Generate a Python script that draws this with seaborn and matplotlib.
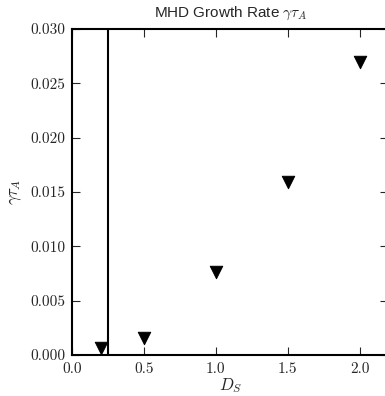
import numpy as np
import pandas as pd
import matplotlib
matplotlib.use('Agg')
import matplotlib.pyplot as plt
import seaborn as sns

# values
d_s = [0.2, 0.5, 1.0, 1.5, 2.0]
growth = [0.0006, 0.00155, 0.0076, 0.0159, 0.0270]
x_cut = 0.25

df = pd.DataFrame({'D_S': d_s, 'gamma_tau': growth})

sns.set_style('ticks')
plt.rcParams['font.family'] = ['Liberation Sans', 'DejaVu Sans']
plt.rcParams['mathtext.fontset'] = 'cm'

fig = plt.figure(figsize=(3.85, 3.96), dpi=100)
ax = fig.add_axes([0.187, 0.1035, 0.822, 0.823])

sns.scatterplot(data=df, x='D_S', y='gamma_tau', marker='v', color='black',
                s=80, edgecolor='black', ax=ax, legend=False)
ax.axvline(x_cut, color='black', lw=1.5)

ax.set_xlim(0, 2.2)
ax.set_ylim(0, 0.03)
ax.set_xticks([0.0, 0.5, 1.0, 1.5, 2.0])
ax.set_yticks([0.0, 0.005, 0.01, 0.015, 0.02, 0.025, 0.03])
ax.set_xticklabels(['0.0', '0.5', '1.0', '1.5', '2.0'])
ax.set_yticklabels(['0.000', '0.005', '0.010', '0.015', '0.020', '0.025', '0.030'])
ax.tick_params(direction='in', top=True, right=True, length=6, width=0.8,
               labelsize=11, pad=5)
for lab in ax.get_xticklabels() + ax.get_yticklabels():
    lab.set_fontfamily('cmr10')
for sp in ax.spines.values():
    sp.set_linewidth(1.5)
    sp.set_color('black')

ax.set_xlabel(r'$D_S$', fontsize=12, labelpad=0)
ax.set_ylabel(r'$\gamma\tau_A$', fontsize=12)
ax.set_title(r'MHD Growth Rate $\gamma\tau_A$', fontsize=11, pad=9)

fig.savefig('out.png', dpi=100)
